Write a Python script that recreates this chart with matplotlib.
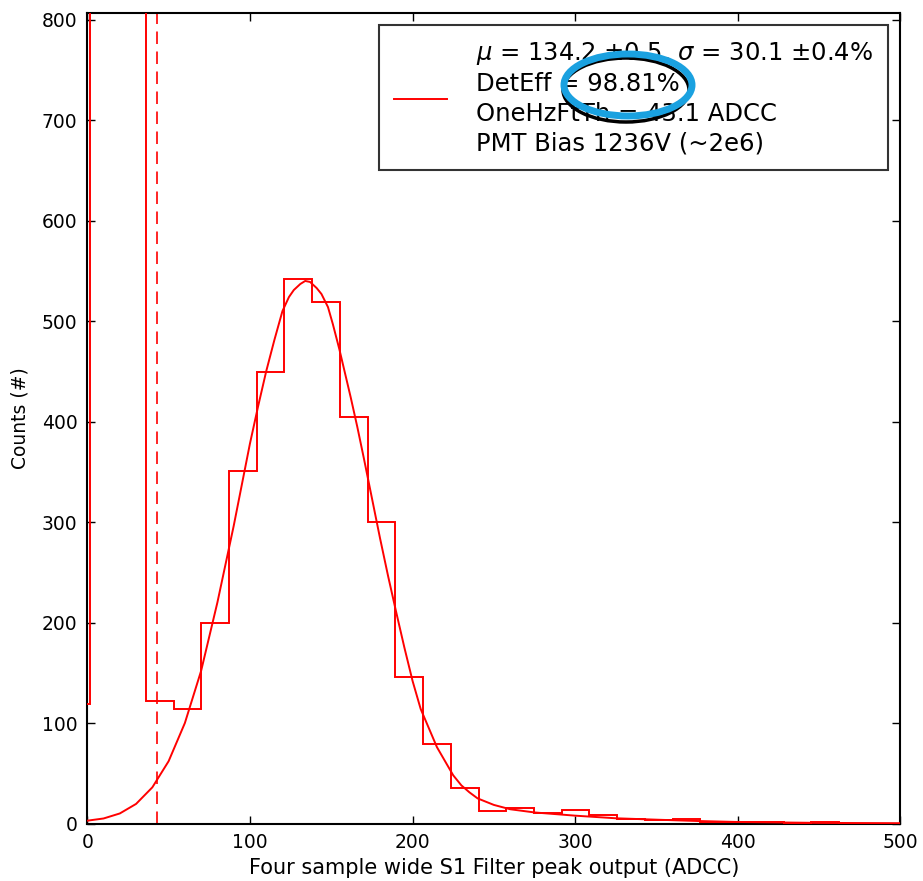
import numpy as np
import matplotlib
matplotlib.use("Agg")
import matplotlib.pyplot as plt
from matplotlib.patches import Ellipse
from matplotlib.lines import Line2D

# ---------------- data ----------------
bin_start = -15.15
bin_width = 17.05
counts = [119, 2600, 1450, 122, 114, 200, 351, 449, 542, 519, 405, 300, 146,
          79, 35, 12, 15, 10, 13, 8, 4, 3, 4, 1, 1, 1, 0, 1, 0, 0, 0]

fit_x = [0, 10, 20, 30, 40, 50, 60, 70, 80, 90, 100, 105, 110, 115, 120, 124,
         127, 131, 134, 137, 141, 144, 148, 151, 155, 162, 166, 170, 175, 180,
         185, 190, 195, 200, 205, 210, 215, 220, 225, 230, 235, 240, 250, 260,
         275, 300, 325, 350, 375, 400, 450, 500]
fit_y = [2.8, 5, 10, 19.5, 36, 62, 100, 152, 220, 296, 378, 415, 450, 481, 510,
         524, 531, 537, 540, 539, 533, 527, 514, 497, 472, 424, 395, 364, 324,
         284, 246, 210, 175, 142, 114, 95, 76, 62, 48, 38, 31, 25, 18.5, 14.2,
         11, 7.8, 5.2, 3.8, 2.5, 1.5, 0.6, 0.3]

threshold = 43.1

legend_lines = [r"$\mu$ = 134.2 $\pm$0.5, $\sigma$ = 30.1 $\pm$0.4%",
                "DetEff = 98.81%",
                "OneHzFtTh = 43.1 ADCC",
                "PMT Bias 1236V (~2e6)"]

xlabel = "Four sample wide S1 Filter peak output (ADCC)"
ylabel = "Counts (#)"
xticks = [0, 100, 200, 300, 400, 500]
yticks = [0, 100, 200, 300, 400, 500, 600, 700, 800]

# ---------------- plotting ----------------
plt.rcParams['font.family'] = ['DejaVu Sans']
plt.rcParams['mathtext.fontset'] = 'dejavusans'

W, H = 923, 881
fig = plt.figure(figsize=(W / 100, H / 100), dpi=100)
ax = fig.add_axes([87.3 / W, 1 - 823.5 / H, (900.4 - 87.3) / W, (823.5 - 12.7) / H])

edges = bin_start + bin_width * np.arange(len(counts) + 1)
ax.stairs(counts, edges, color='red', linewidth=1.4, zorder=3)
ax.plot(fit_x, fit_y, color='red', linewidth=1.4, zorder=3)
ax.axvline(threshold, color='red', linestyle=(0, (7.5, 4.5)), linewidth=1.2, zorder=2)

ax.set_xlim(0, 500)
ax.set_ylim(0, 807)
ax.set_xticks(xticks)
ax.set_yticks(yticks)
ax.tick_params(direction='in', length=5.5, width=1, top=True, right=True,
               labelsize=13.5, pad=7)
for s in ax.spines.values():
    s.set_linewidth(1.5)
    s.set_color('black')

ax.set_xlabel(xlabel, fontsize=15, labelpad=4)
ax.set_ylabel(ylabel, fontsize=13.5, labelpad=9)

handle = Line2D([], [], color='red', linewidth=1.4)
leg = ax.legend([handle], ["\n".join(legend_lines)], loc='upper right',
                bbox_to_anchor=(0.9848, 0.9848), borderaxespad=0,
                fontsize=17.5, frameon=True, fancybox=False,
                handlelength=2.2, handletextpad=1.2, borderpad=0.6)
leg.get_frame().set_edgecolor('black')
leg.get_frame().set_linewidth(1.5)
for t in leg.get_texts():
    t.set_linespacing(1.3)

# annotation ellipses drawn over the legend
x_per_px = 500 / (900.4 - 87.3)
y_per_px = 807 / (823.5 - 12.7)
def px_to_data(px, py):
    return (px - 87.3) * x_per_px, (823.5 - py) * y_per_px

cx, cy = px_to_data(626, 90)
ax.add_patch(Ellipse((cx, cy), 126 * x_per_px, 64 * y_per_px, fill=False,
                     edgecolor='black', linewidth=2.5, zorder=10, clip_on=False))
cx, cy = px_to_data(628, 85)
ax.add_patch(Ellipse((cx, cy), 128 * x_per_px, 62 * y_per_px, fill=False,
                     edgecolor='#1aa1e0', linewidth=5, zorder=11, clip_on=False))

fig.savefig("out.png", dpi=100)
